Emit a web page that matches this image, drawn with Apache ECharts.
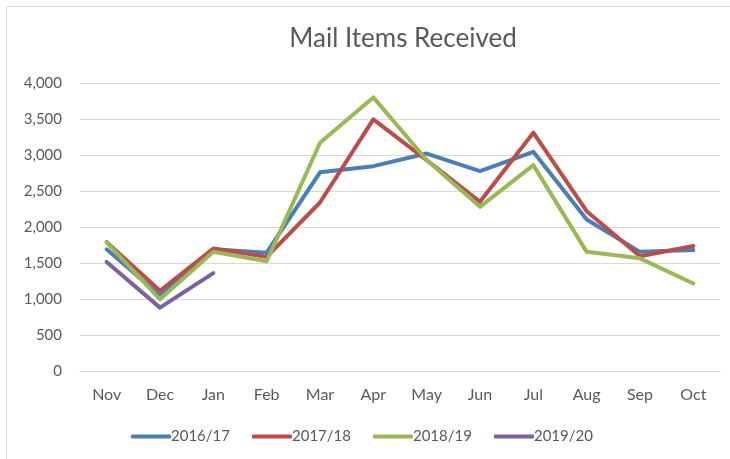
<!DOCTYPE html>
<html><head><meta charset="utf-8">
<script src="https://cdn.jsdelivr.net/npm/echarts@6/dist/echarts.min.js"></script>
<style>html,body{margin:0;padding:0;background:#fff}#c{width:730px;height:459px}</style>
</head><body><div id="c"></div>
<script>
const months = ['Nov','Dec','Jan','Feb','Mar','Apr','May','Jun','Jul','Aug','Sep','Oct'];
const s1617 = [1690,1050,1690,1643,2760,2845,3020,2775,3045,2105,1655,1680];
const s1718 = [1790,1115,1700,1585,2340,3495,2930,2350,3310,2220,1595,1735];
const s1819 = [1785,995,1655,1525,3170,3800,2930,2280,2860,1655,1565,1215];
const s1920 = [1515,880,1360];
const names = ['2016/17','2017/18','2018/19','2019/20'];
const colors = ['#4a7ebb','#be4b48','#98b954','#7d60a0'];
const yTicks = [0,500,1000,1500,2000,2500,3000,3500,4000];

const font = 'Lato, "Open Sans", "Noto Sans", sans-serif';
const chart = echarts.init(document.getElementById('c'));
const data = [s1617, s1718, s1819, s1920];
chart.setOption({
  animation: false,
  color: colors,
  graphic: [{type:'rect', shape:{x:6.5,y:6.5,width:760,height:500}, style:{fill:'none',stroke:'#d9d9d9',lineWidth:1}, silent:true}],
  title: {text:'Mail Items Received', left:398, top:21, textAlign:'center',
    textStyle:{fontFamily:font, fontSize:26, fontWeight:'normal', color:'#595959'}},
  grid: {left:80, right:10, top:83, bottom:88, containLabel:false},
  legend: {bottom:10, left:126, itemWidth:40, itemHeight:4, itemGap:22,
    icon:'roundRect',
    textStyle:{fontFamily:font, fontSize:15, color:'#595959', padding:[0,0,0,-5]},
    data: names},
  xAxis: {type:'category', data: months, boundaryGap:true,
    axisLine:{show:true, lineStyle:{color:'#d9d9d9'}}, axisTick:{show:false},
    axisLabel:{fontFamily:font, fontSize:16, color:'#595959', margin:16}},
  yAxis: {type:'value', min:0, max:4000, interval:500,
    axisLine:{show:false}, axisTick:{show:false},
    axisLabel:{fontFamily:font, fontSize:15, color:'#595959', margin:18,
      formatter: v => v.toLocaleString('en-US')},
    splitLine:{lineStyle:{color:'#d9d9d9', width:1}}},
  series: data.map((d,i)=>({name:names[i], type:'line', data:d, symbol:'none',
    lineStyle:{width:4, cap:'round', join:'round'}}))
});
</script></body></html>
